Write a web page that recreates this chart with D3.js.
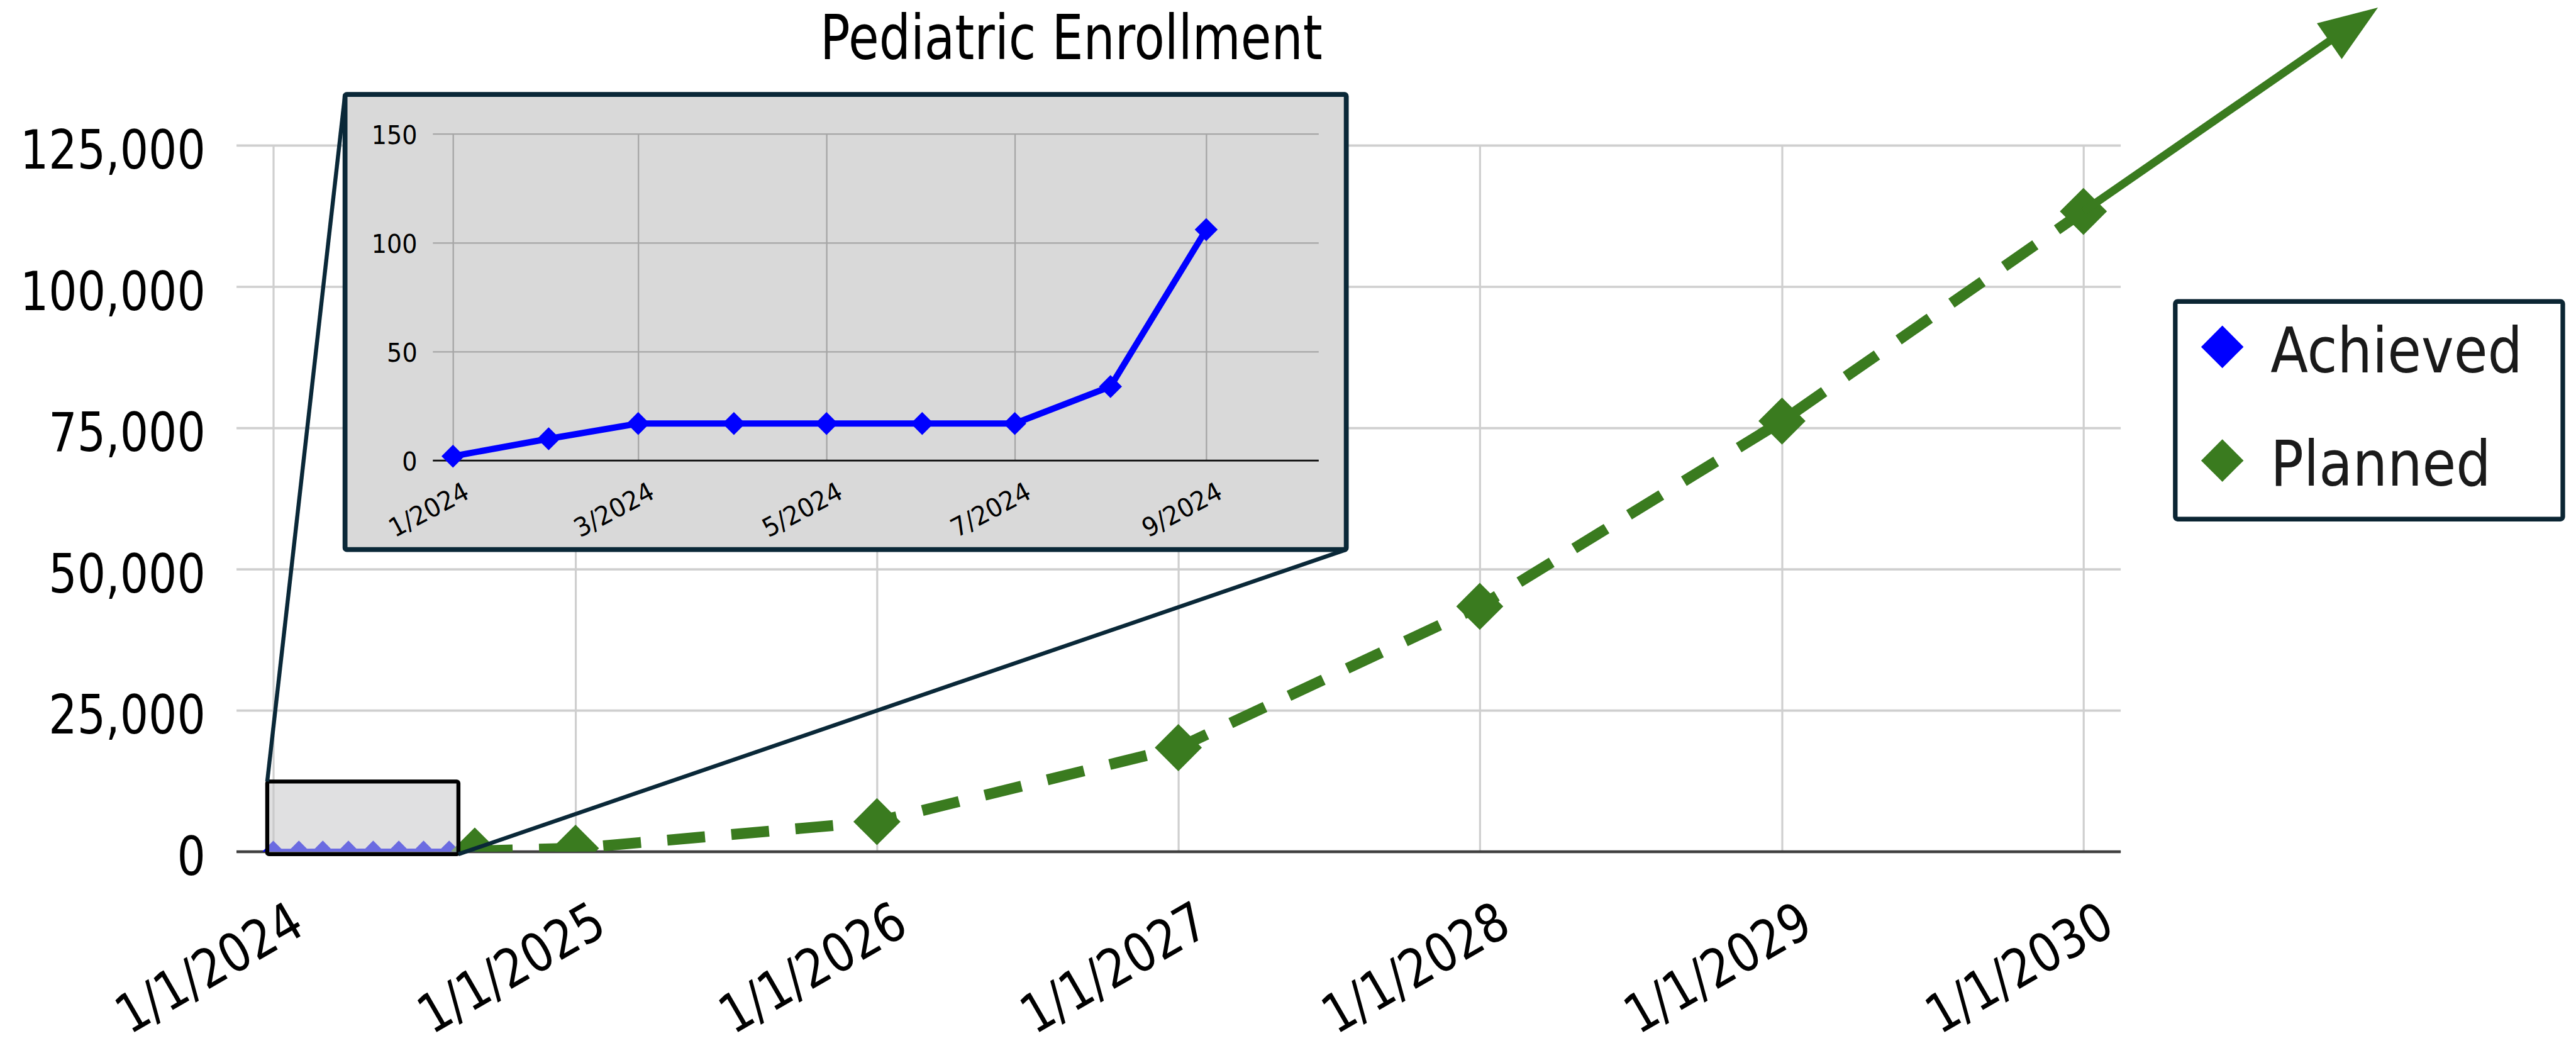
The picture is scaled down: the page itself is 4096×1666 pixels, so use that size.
<!DOCTYPE html>
<html>
<head>
<meta charset="utf-8">
<script src="https://cdn.jsdelivr.net/npm/d3@7"></script>
<style>
  html, body { margin: 0; padding: 0; background: #fff; }
  svg { display: block; }
  text { font-family: "DejaVu Sans", Verdana, sans-serif; }
</style>
</head>
<body>
<svg id="chart"></svg>
<script>
// values
const title = "Pediatric Enrollment";
const seriesNames = ["Achieved", "Planned"];
const seriesColors = ["#0000ff", "#3a7b1f"];

const achievedDates = ["2024-01-01", "2024-02-01", "2024-03-01", "2024-04-01", "2024-05-01",
                       "2024-06-01", "2024-07-01", "2024-08-01", "2024-09-01"];
const achievedValues = [2, 10, 17, 17, 17, 17, 17, 34, 106];

const plannedDates = ["2024-09-01", "2025-01-01", "2026-01-01", "2027-01-01",
                      "2028-01-01", "2029-01-01", "2030-01-01"];
const plannedValues = [106, 600, 5300, 18400, 43400, 76200, 113300];

const yTicks = [0, 25000, 50000, 75000, 100000, 125000];
const xTicks = ["2024-01-01", "2025-01-01", "2026-01-01", "2027-01-01",
                "2028-01-01", "2029-01-01", "2030-01-01"];
const insetYTicks = [0, 50, 100, 150];
const insetXTicks = ["2024-01-01", "2024-03-01", "2024-05-01", "2024-07-01", "2024-09-01"];

// ---------------------------------------------------------------
const W = 4487, H = 1825;   // reference size, viewBox scales it to the window
const parse = d3.timeParse("%Y-%m-%d");

const achieved = achievedDates.map((d, i) => ({date: parse(d), value: achievedValues[i]}));
const planned = plannedDates.map((d, i) => ({date: parse(d), value: plannedValues[i]}));

const svg = d3.select("#chart")
  .attr("width", 4096)
  .attr("height", 1666)
  .attr("viewBox", `0 0 ${W} ${H}`);

const navy = "#0a2838";
const plot = {left: 412, right: 3694, top: 253, bottom: 1483};

const x = d3.scaleTime()
  .domain([parse("2024-01-01"), parse("2030-01-01")])
  .range([476, 3629]);
const y = d3.scaleLinear()
  .domain([0, 125000])
  .range([plot.bottom, plot.top]);

const diamond = r => `M0,${-r}L${r},0L0,${r}L${-r},0Z`;

// ---- main grid + labels ----
const yAxisGroup = svg.append("g").attr("transform", `translate(${plot.left},0)`);
d3.axisLeft(y)
  .tickValues(yTicks)
  .tickSize(-(plot.right - plot.left))
  .tickFormat(d3.format(","))(yAxisGroup);
yAxisGroup.select(".domain").remove();
yAxisGroup.selectAll(".tick line")
  .attr("stroke", d => d === 0 ? "#404040" : "#cfcfcf")
  .attr("stroke-width", d => d === 0 ? 4.5 : 4);
yAxisGroup.selectAll(".tick text")
  .attr("x", null).attr("dy", null)
  .attr("font-size", 93)
  .attr("fill", "#000")
  .attr("text-anchor", "end")
  .attr("transform", "translate(-54,40) scale(0.84,1)");

const xAxisGroup = svg.append("g").attr("transform", `translate(0,${plot.bottom})`);
d3.axisBottom(x)
  .tickValues(xTicks.map(parse))
  .tickSize(-(plot.bottom - plot.top))
  .tickFormat(d3.timeFormat("%-m/%-d/%Y"))(xAxisGroup);
xAxisGroup.select(".domain").remove();
xAxisGroup.selectAll(".tick line")
  .attr("stroke", "#cfcfcf")
  .attr("stroke-width", 3.5);
xAxisGroup.selectAll(".tick text")
  .attr("y", null).attr("dy", null)
  .attr("font-size", 93)
  .attr("fill", "#000")
  .attr("text-anchor", "end")
  .attr("transform", "translate(58,141) rotate(-30) scale(0.854,1)");

// bring zero line above vertical grid
svg.append("line")
  .attr("x1", plot.left).attr("x2", plot.right)
  .attr("y1", y(0)).attr("y2", y(0))
  .attr("stroke", "#404040").attr("stroke-width", 4.5);

// ---- series (clipped at the x axis) ----
svg.append("clipPath").attr("id", "plotClip")
  .append("rect").attr("x", 0).attr("y", 0).attr("width", W).attr("height", plot.bottom);

const series = svg.append("g").attr("clip-path", "url(#plotClip)");

const line = d3.line().x(d => x(d.date)).y(d => y(d.value));

series.append("path")
  .datum(achieved)
  .attr("d", line)
  .attr("fill", "none")
  .attr("stroke", seriesColors[0])
  .attr("stroke-width", 10);
series.selectAll(".ach")
  .data(achieved)
  .enter().append("path")
    .attr("class", "ach")
    .attr("d", diamond(19))
    .attr("transform", d => `translate(${x(d.date)},${y(d.value)})`)
    .attr("fill", seriesColors[0]);

series.append("path")
  .datum(planned)
  .attr("d", line)
  .attr("fill", "none")
  .attr("stroke", seriesColors[1])
  .attr("stroke-width", 19)
  .attr("stroke-dasharray", "66 46");
series.selectAll(".plan")
  .data(planned)
  .enter().append("path")
    .attr("class", "plan")
    .attr("d", diamond(41))
    .attr("transform", d => `translate(${x(d.date)},${y(d.value)})`)
    .attr("fill", seriesColors[1]);

// ---- zoom box + connectors ----
const box = {x0: 465.5, y0: 1361, x1: 798.5, y1: 1487.5};
const inset = {x0: 601, y0: 164.5, x1: 2345, y1: 957};

svg.append("rect")
  .attr("x", box.x0).attr("y", box.y0)
  .attr("width", box.x1 - box.x0).attr("height", box.y1 - box.y0)
  .attr("rx", 3)
  .attr("fill", "rgb(198,198,200)").attr("fill-opacity", 0.54)
  .attr("stroke", "#000").attr("stroke-width", 7);

svg.append("line")
  .attr("x1", box.x0).attr("y1", box.y0)
  .attr("x2", inset.x0).attr("y2", inset.y0)
  .attr("stroke", navy).attr("stroke-width", 7);
svg.append("line")
  .attr("x1", box.x1).attr("y1", box.y1)
  .attr("x2", inset.x1).attr("y2", inset.y1)
  .attr("stroke", navy).attr("stroke-width", 7);

// ---- inset chart ----
const ig = svg.append("g");
ig.append("rect")
  .attr("x", inset.x0).attr("y", inset.y0)
  .attr("width", inset.x1 - inset.x0).attr("height", inset.y1 - inset.y0)
  .attr("rx", 3)
  .attr("fill", "#d9d9d9")
  .attr("stroke", navy).attr("stroke-width", 8.5);

const iplot = {left: 754, right: 2297, top: 233, bottom: 802};
const ix = d3.scaleTime()
  .domain([parse("2024-01-01"), parse("2024-09-01")])
  .range([789, 2101]);
const iy = d3.scaleLinear()
  .domain([0, 150])
  .range([iplot.bottom, iplot.top]);

const iyAxis = ig.append("g").attr("transform", `translate(${iplot.left},0)`);
d3.axisLeft(iy)
  .tickValues(insetYTicks)
  .tickSize(-(iplot.right - iplot.left))(iyAxis);
iyAxis.select(".domain").remove();
iyAxis.selectAll(".tick line")
  .attr("stroke", "#a6a6a6")
  .attr("stroke-width", 2.5);
iyAxis.selectAll(".tick text")
  .attr("x", null).attr("dy", null)
  .attr("font-size", 44)
  .attr("fill", "#000")
  .attr("text-anchor", "end")
  .attr("transform", "translate(-27,17) scale(0.95,1)");

const ixAxis = ig.append("g").attr("transform", `translate(0,${iplot.bottom})`);
d3.axisBottom(ix)
  .tickValues(insetXTicks.map(parse))
  .tickSize(-(iplot.bottom - iplot.top))
  .tickFormat(d3.timeFormat("%-m/%Y"))(ixAxis);
ixAxis.select(".domain").remove();
ixAxis.selectAll(".tick line")
  .attr("stroke", "#a6a6a6")
  .attr("stroke-width", 2.5);
ixAxis.selectAll(".tick text")
  .attr("y", null).attr("dy", null)
  .attr("font-size", 45)
  .attr("fill", "#000")
  .attr("text-anchor", "end")
  .attr("transform", "translate(31,64) rotate(-28) scale(0.95,1)");

ig.append("line")
  .attr("x1", iplot.left).attr("x2", iplot.right)
  .attr("y1", iy(0)).attr("y2", iy(0))
  .attr("stroke", "#111").attr("stroke-width", 3);

const iline = d3.line().x(d => ix(d.date)).y(d => iy(d.value));
ig.append("path")
  .datum(achieved)
  .attr("d", iline)
  .attr("fill", "none")
  .attr("stroke", seriesColors[0])
  .attr("stroke-width", 11);
ig.selectAll(".iach")
  .data(achieved)
  .enter().append("path")
    .attr("class", "iach")
    .attr("d", diamond(20))
    .attr("transform", d => `translate(${ix(d.date)},${iy(d.value)})`)
    .attr("fill", seriesColors[0]);

// ---- legend ----
const lg = svg.append("g");
lg.append("rect")
  .attr("x", 3789).attr("y", 525)
  .attr("width", 675).attr("height", 379)
  .attr("rx", 4)
  .attr("fill", "#fff")
  .attr("stroke", "#0b2533").attr("stroke-width", 8);

const legendItems = lg.selectAll(".item")
  .data(seriesNames)
  .enter().append("g")
    .attr("class", "item")
    .attr("transform", (d, i) => `translate(3871,${604 + i * 198})`);
legendItems.append("path")
  .attr("d", diamond(37))
  .attr("fill", (d, i) => seriesColors[i]);
legendItems.append("text")
  .text(d => d)
  .attr("font-size", 110)
  .attr("fill", "#1a1a1a")
  .attr("transform", "translate(84,44) scale(0.87,1)");

// ---- title ----
svg.append("text")
  .text(title)
  .attr("font-size", 107)
  .attr("fill", "#000")
  .attr("text-anchor", "middle")
  .attr("transform", "translate(1866,103) scale(0.81,1)");

// ---- trend arrow from last planned point ----
const last = planned[planned.length - 1];
const start = [x(last.date), y(last.value)];
const tip = [4142, 13];
const len = Math.hypot(tip[0] - start[0], tip[1] - start[1]);
const u = [(tip[0] - start[0]) / len, (tip[1] - start[1]) / len];
const p = [-u[1], u[0]];
const headLen = 103, headHalf = 38;
const base = [tip[0] - u[0] * headLen, tip[1] - u[1] * headLen];

svg.append("line")
  .attr("x1", start[0]).attr("y1", start[1])
  .attr("x2", base[0] + u[0] * 6).attr("y2", base[1] + u[1] * 6)
  .attr("stroke", seriesColors[1]).attr("stroke-width", 14);
svg.append("polygon")
  .attr("points", [
      tip,
      [base[0] + p[0] * headHalf, base[1] + p[1] * headHalf],
      [base[0] - p[0] * headHalf, base[1] - p[1] * headHalf]
    ].map(q => q.join(",")).join(" "))
  .attr("fill", seriesColors[1]);
</script>
</body>
</html>
